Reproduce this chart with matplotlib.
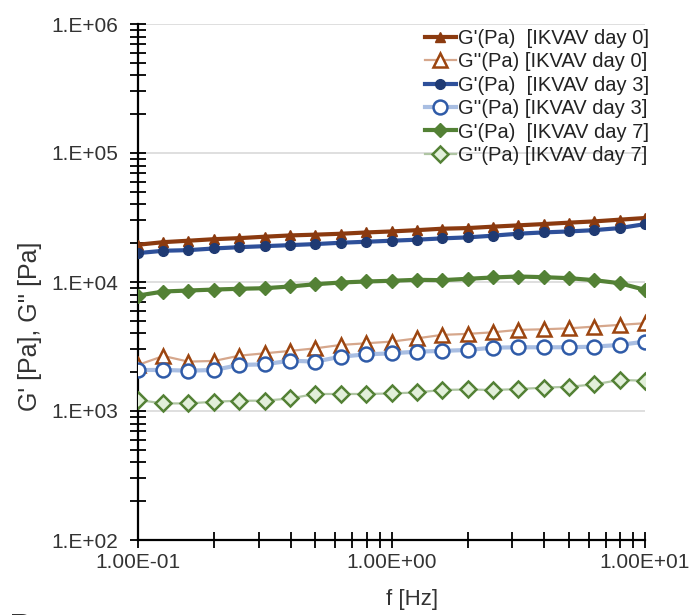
import math
import matplotlib
matplotlib.use("Agg")
import matplotlib.pyplot as plt
from matplotlib.ticker import FixedLocator, LogLocator, NullFormatter, FuncFormatter

plt.rcParams['font.family'] = ['Liberation Sans', 'DejaVu Sans']

# frequency sweep, 10 points per decade
freq = [0.1, 0.126, 0.158, 0.2, 0.251, 0.316, 0.398, 0.501, 0.631, 0.794,
        1.0, 1.26, 1.58, 2.0, 2.51, 3.16, 3.98, 5.01, 6.31, 7.94, 10.0]

g1_day0 = [19450, 20370, 20890, 21480, 21880, 22440, 22960, 23280, 23660, 24210, 24660,
           25230, 25880, 26180, 26850, 27480, 28120, 28840, 29510, 30410, 31330]
g2_day0 = [2275, 2670, 2414, 2445, 2686, 2800, 2923, 3061, 3252, 3350, 3450,
           3657, 3890, 3963, 4074, 4254, 4300, 4375, 4510, 4652, 4790]
g1_day3 = [16750, 17470, 17660, 18200, 18620, 18960, 19310, 19680, 20150, 20510, 20890,
           21280, 21780, 22180, 22860, 23680, 24230, 24660, 25240, 26170, 28100]
g2_day3 = [2080, 2080, 2054, 2080, 2275, 2300, 2455, 2414, 2637, 2748, 2800,
           2884, 2923, 2973, 3097, 3119, 3119, 3119, 3155, 3252, 3450]
g1_day7 = [7850, 8440, 8590, 8740, 8860, 8950, 9230, 9610, 9910, 10090, 10220,
           10400, 10330, 10590, 10840, 11030, 10900, 10710, 10330, 9790, 8690]
g2_day7 = [1216, 1145, 1145, 1180, 1202, 1202, 1251, 1355, 1355, 1355, 1368,
           1393, 1455, 1469, 1455, 1479, 1517, 1542, 1607, 1740, 1718]

labels = ["G'(Pa)  [IKVAV day 0]", "G''(Pa) [IKVAV day 0]",
          "G'(Pa)  [IKVAV day 3]", "G''(Pa) [IKVAV day 3]",
          "G'(Pa)  [IKVAV day 7]", "G''(Pa) [IKVAV day 7]"]

fig = plt.figure(figsize=(6.96, 6.15), dpi=100)
ax = fig.add_axes([138 / 696, 1 - 540 / 615, (645 - 138) / 696, (540 - 24) / 615])

ax.plot(freq, g1_day0, color='#8B3A0F', lw=3, marker='^', ms=7,
        mfc='#8B3A0F', mec='#8B3A0F', label=labels[0], zorder=5)
ax.plot(freq, g2_day0, color='#D6A78C', lw=1.6, marker='^', ms=10,
        mfc='white', mec='#9C4510', mew=1.8, label=labels[1], zorder=4)
ax.plot(freq, g1_day3, color='#2E509A', lw=3, marker='o', ms=7,
        mfc='#1F3A73', mec='#1F3A73', label=labels[2], zorder=5)
ax.plot(freq, g2_day3, color='#A9BEE2', lw=3, marker='o', ms=10,
        mfc='white', mec='#2F5BA8', mew=1.8, label=labels[3], zorder=4)
ax.plot(freq, g1_day7, color='#538135', lw=3, marker='D', ms=7,
        mfc='#538135', mec='#538135', label=labels[4], zorder=5)
ax.plot(freq, g2_day7, color='#AFC5A3', lw=1.6, marker='D', ms=8,
        mfc='#E2EFDA', mec='#538135', mew=1.8, label=labels[5], zorder=4)

ax.set_xscale('log')
ax.set_yscale('log')
ax.set_xlim(0.1, 10)
ax.set_ylim(1e2, 1e6)

ax.yaxis.set_major_locator(FixedLocator([1e2, 1e3, 1e4, 1e5, 1e6]))
ax.yaxis.set_minor_locator(LogLocator(base=10, subs=range(2, 10), numticks=20))
ax.yaxis.set_major_formatter(FuncFormatter(lambda v, p: "1.E+%02d" % round(math.log10(v))))
ax.yaxis.set_minor_formatter(NullFormatter())

ax.xaxis.set_major_locator(FixedLocator([0.1, 1, 10]))
ax.xaxis.set_minor_locator(LogLocator(base=10, subs=range(2, 10), numticks=20))
ax.xaxis.set_major_formatter(FuncFormatter(lambda v, p: "%.2E" % v))
ax.xaxis.set_minor_formatter(NullFormatter())

ax.tick_params(which='both', direction='inout', length=11, width=1.3, colors='black',
               labelsize=15, labelcolor='#333333')
ax.tick_params(axis='y', which='both', pad=9)
ax.tick_params(axis='x', which='both', pad=4)

ax.grid(True, axis='y', which='major', color='#D9D9D9', lw=1.2)
ax.set_axisbelow(True)
for s in ['top', 'right']:
    ax.spines[s].set_visible(False)
for s in ['left', 'bottom']:
    ax.spines[s].set_linewidth(1.6)

ax.set_xlabel('f [Hz]', fontsize=16, color='#333333')
ax.xaxis.set_label_coords(0.54, -0.095)
ax.set_ylabel("G' [Pa], G'' [Pa]", fontsize=18, color='#333333')
ax.yaxis.set_label_coords(-0.19, 0.415)

ax.legend(loc='upper right', bbox_to_anchor=(1.035, 1.018), frameon=False,
          fontsize=14.5, handlelength=1.5, handletextpad=0.1, labelspacing=0.22,
          borderpad=0.2, labelcolor='#222222')

fig.text(0.015, 0.004, 'B', fontsize=22, fontweight='bold', va='top', color='#333333')

fig.savefig('out.png', dpi=100)
